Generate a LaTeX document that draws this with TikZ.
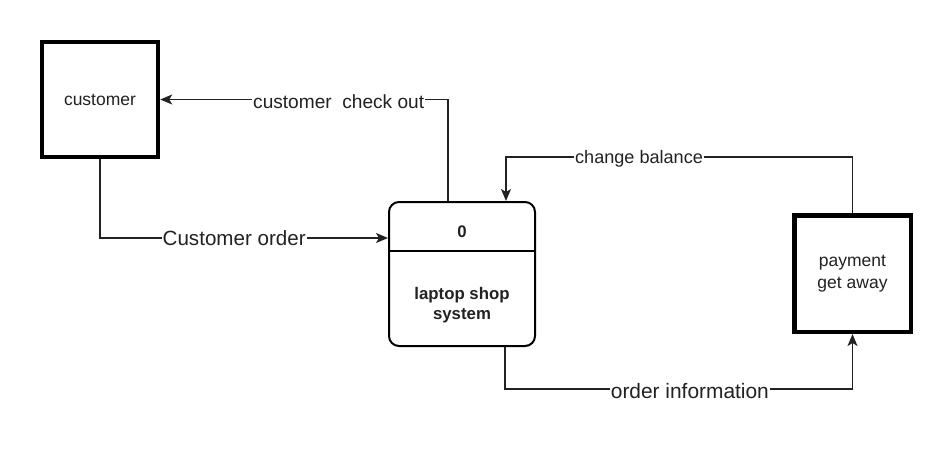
\documentclass[tikz,border=0pt]{standalone}
\usepackage{fontspec}
\setmainfont{Liberation Sans}
\usetikzlibrary{arrows.meta,calc}
\definecolor{ink}{HTML}{222222}
\begin{document}
\begin{tikzpicture}[x=1pt,y=-1pt,
  entity/.style={draw=black,line width=4.5pt,fill=white,inner sep=0pt,minimum width=116pt,minimum height=115pt,text=ink,align=center,font=\fontsize{17.5}{22}\selectfont},
  procbox/.style={draw=black,line width=2pt,rounded corners=10pt,fill=white,inner sep=0pt,minimum width=146pt,minimum height=144pt},
  ptext/.style={text=ink,align=center,font=\bfseries\fontsize{16.8}{20}\selectfont},
  flow/.style={draw=ink,line width=1.4pt,-{Stealth[length=12pt,width=10pt,inset=3pt]}},
  lbl/.style={fill=white,text=ink,inner sep=1pt}
]
\useasboundingbox (0,0) rectangle (951,453);
\node[entity] (cust) at (100,99.5) {customer};
\node[procbox] (proc) at (462,274) {};
\node[entity,minimum width=116.5pt,minimum height=116.5pt] (pay) at (852.5,273.5) {payment\\get away};
\draw[line width=2pt] ($(proc.north west)+(0,50)$) coordinate (dl) -- ($(proc.north east)+(0,50)$) coordinate (dr);
\node[ptext] (pnum) at ($(proc.north)+(0,31)$) {0};
\node[ptext] (pname) at ($(proc.north)+(0,104)$) {laptop shop\\system};
\coordinate (inA) at ($(proc.north west)+(0,37)$);
\coordinate (outA) at ($(proc.north west)+(60,0)$);
\coordinate (inB) at ($(proc.north west)+(118,0)$);
\coordinate (outB) at ($(proc.south west)+(117,0)$);
\draw[flow] (cust.south) |- (inA)
  node[lbl,pos=0.733,font=\fontsize{20.6}{24}\selectfont] (l1) {Customer order};
\draw[flow] (outA) |- (cust.east)
  node[lbl,pos=0.69,yshift=-2pt,font=\fontsize{19.1}{23}\selectfont] (l2) {customer\ \ check out};
\draw[flow] (pay.north) -- ++(0,-56) -| (inB)
  node[lbl,pos=0.308,yshift=-2pt,font=\fontsize{18.1}{22}\selectfont] (l3) {change balance};
\draw[flow] (outB) -- ++(0,42) -| (pay.south)
  node[lbl,pos=0.266,yshift=-2pt,font=\fontsize{20.9}{24}\selectfont] (l4) {order information};
\end{tikzpicture}
\end{document}
